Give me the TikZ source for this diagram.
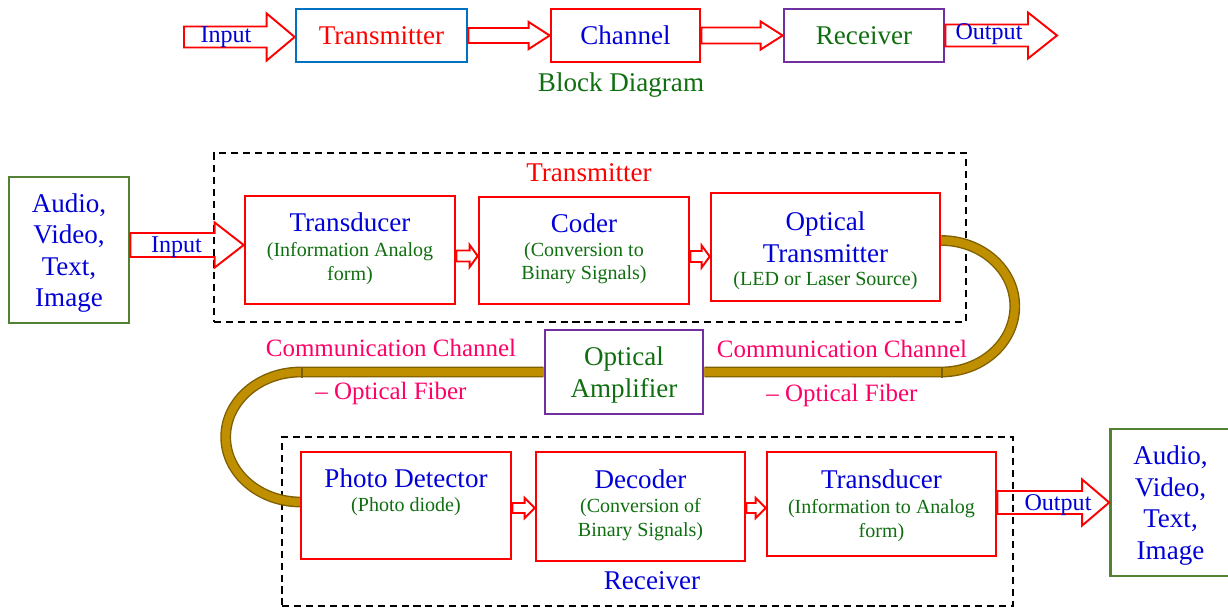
\documentclass[tikz,border=0pt]{standalone}
\usepackage{fontspec}
\setmainfont{Liberation Serif}
\usetikzlibrary{calc}

\definecolor{txtblue}{RGB}{0,0,215}
\definecolor{txtgreen}{RGB}{15,110,15}
\definecolor{linkpink}{RGB}{255,0,102}
\definecolor{boxblue}{RGB}{0,112,192}
\definecolor{boxpurple}{RGB}{112,48,160}
\definecolor{boxolive}{RGB}{84,130,53}
\definecolor{fibergold}{RGB}{191,143,0}
\definecolor{fiberdark}{RGB}{127,96,0}

\newcommand{\blocktxt}{\fontsize{15.4pt}{17.9pt}\selectfont}
\newcommand{\notetxt}{\fontsize{11.4pt}{13.6pt}\selectfont}
\newcommand{\flowtxt}{\fontsize{13.7pt}{16pt}\selectfont}
\newcommand{\fibertxt}{\fontsize{14.2pt}{17pt}\selectfont}

\tikzset{
  block/.style={draw, line width=1.5pt, inner sep=0pt},
  redbox/.style={block, draw=red},
  blocktitle/.style={text=txtblue, font=\blocktxt, text depth=0pt, inner sep=0pt, align=center},
  blocknote/.style={text=txtgreen, font=\notetxt, text depth=0pt, inner sep=0pt, align=center},
  flowlabel/.style={text=txtblue, font=\flowtxt, text depth=0pt, inner sep=0pt},
  fiberlabel/.style={text=linkpink, font=\fibertxt, text depth=0pt, inner sep=0pt},
  groupframe/.style={draw, line width=1pt, dash pattern=on 4pt off 2.8pt, inner sep=0pt},
  blockarrow/.style={draw=red, line width=1.1pt, line join=miter},
  fiber/.style={line width=0.8pt, draw=fiberdark, double=fibergold, double distance=0.16cm}
}

% tail, tip, shaft half width, head half width, head length
\newcommand{\fatarrow}[5]{%
  \draw[blockarrow] let \p1=(#1), \p2=(#2) in
    ($(\x1,\y1)+(0,-#3)$) -- ($(\x2,\y1)+(-#5,-#3)$) -- ($(\x2,\y1)+(-#5,-#4)$)
    -- (\x2,\y1) -- ($(\x2,\y1)+(-#5,#4)$) -- ($(\x2,\y1)+(-#5,#3)$)
    -- ($(\x1,\y1)+(0,#3)$) -- cycle;}

\begin{document}
\begin{tikzpicture}[x=0.02cm,y=-0.02cm]
\useasboundingbox (0,0) rectangle (1228,609);

% block diagram
\node[block, blocktitle, draw=boxblue, text=red, minimum width=3.42cm, minimum height=1.06cm] (tx) at (381.5,35.5) {Transmitter};
\node[block, blocktitle, draw=red, minimum width=2.98cm, minimum height=1.06cm] (ch) at (625.5,35.5) {Channel};
\node[block, blocktitle, draw=boxpurple, text=txtgreen, minimum width=3.2cm, minimum height=1.06cm] (rx) at (864,35.5) {Receiver};
\coordinate (inp) at (184,37);
\coordinate (outp) at (1057,34);
\fatarrow{inp}{tx.west}{10.5}{23.5}{28}
\fatarrow{tx.east}{ch.west}{7.5}{13.5}{21}
\fatarrow{ch.east}{rx.west}{8}{14}{22}
\fatarrow{rx.east}{outp}{11}{23}{29}
\node[flowlabel] (inlbl) at (226,35) {Input};
\node[flowlabel] (outlbl) at (989,32) {Output};
\node[blocktitle, text=txtgreen] (bdlbl) at (621,82) {Block Diagram};

% frames
\node[groupframe, minimum width=15.04cm, minimum height=3.38cm] (txframe) at (590,237.5) {};
\node[groupframe, minimum width=14.62cm, minimum height=3.38cm] (rxframe) at (647.5,521.5) {};
\node[blocktitle, text=red] (txlbl) at (589,173) {Transmitter};
\node[blocktitle] (rxlbl) at (652,581) {Receiver};

% transmitter side
\node[block, blocktitle, draw=boxolive, minimum width=2.4cm, minimum height=2.92cm] (src) at (69,250) {Audio,\\Video,\\Text,\\Image};
\node[redbox, minimum width=4.2cm, minimum height=2.16cm] (td1) at (350,250) {};
\node[blocktitle] (td1t) at (350,222) {Transducer};
\node[blocknote] (td1n) at (350,261) {(Information Analog\\form)};
\node[redbox, minimum width=4.2cm, minimum height=2.14cm] (cod) at (584,250.5) {};
\node[blocktitle] (codt) at (584,223) {Coder};
\node[blocknote] (codn) at (584,261) {(Conversion to\\Binary Signals)};
\node[redbox, minimum width=4.58cm, minimum height=2.16cm] (otx) at (825.5,247) {};
\node[blocktitle] (otxt) at (825.5,237) {Optical\\Transmitter};
\node[blocknote] (otxn) at (825.5,279) {(LED or Laser Source)};
\fatarrow{$(src.east)+(0,-5)$}{td1.west}{12}{22.5}{29}
\node[flowlabel] (in2lbl) at (176.5,245) {Input};
\fatarrow{$(td1.east)+(0,6)$}{cod.west}{5.5}{11}{8}
\fatarrow{$(cod.east)+(0,6)$}{otx.west}{5.5}{11}{8}

% channel
\node[block, blocktitle, draw=boxpurple, text=txtgreen, minimum width=3.16cm, minimum height=1.68cm] (amp) at (624,372) {Optical\\Amplifier};
\draw[fiber] ($(otx.east)+(0,-6.5)$) arc[start angle=-90, end angle=90, x radius=73.5, y radius=65.75] -- (amp.east);
\draw[fiber] (amp.west) -- ++(-243,0) arc[start angle=270, end angle=90, x radius=75, y radius=65];
\draw[fiberdark, line width=0.8pt] (942,366.5) -- (942,377.5);
\draw[fiberdark, line width=0.8pt] (302,366.5) -- (302,377.5);
\node[fiberlabel] (cc1) at (391,348) {Communication Channel};
\node[fiberlabel] (of1) at (391,391) {-- Optical Fiber};
\node[fiberlabel] (cc2) at (842,349) {Communication Channel};
\node[fiberlabel] (of2) at (842,393) {-- Optical Fiber};

% receiver side
\node[redbox, minimum width=4.2cm, minimum height=2.14cm] (pd) at (406,505.5) {};
\node[blocktitle] (pdt) at (406,478) {Photo Detector};
\node[blocknote] (pdn) at (406,505) {(Photo diode)};
\node[redbox, minimum width=4.18cm, minimum height=2.18cm] (dec) at (640.5,506.5) {};
\node[blocktitle] (dect) at (640.5,479) {Decoder};
\node[blocknote] (decn) at (640.5,517.5) {(Conversion of\\Binary Signals)};
\node[redbox, minimum width=4.58cm, minimum height=2.08cm] (td2) at (881.5,504) {};
\node[blocktitle] (td2t) at (881.5,479) {Transducer};
\node[blocknote] (td2n) at (881.5,518.5) {(Information to Analog\\form)};
\node[block, blocktitle, draw=boxolive, minimum width=2.4cm, minimum height=2.94cm] (sink) at (1170.5,502.5) {Audio,\\Video,\\Text,\\Image};
\fatarrow{$(pd.east)+(0,2.5)$}{dec.west}{5}{10}{10}
\fatarrow{$(dec.east)+(0,1.5)$}{td2.west}{5}{10}{10}
\fatarrow{$(td2.east)+(0,-1.5)$}{sink.west}{11.5}{23}{27}
\node[flowlabel] (out2lbl) at (1058,503) {Output};

\end{tikzpicture}
\end{document}
